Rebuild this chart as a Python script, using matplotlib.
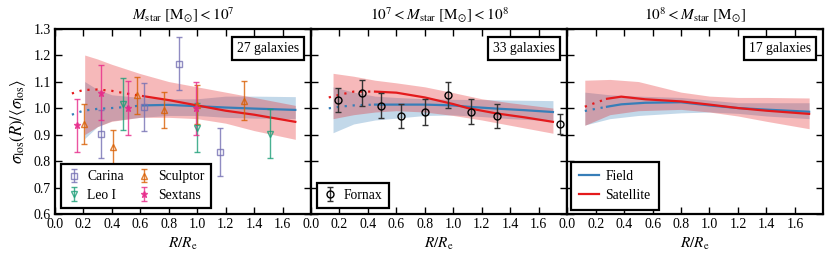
import numpy as np
import matplotlib
matplotlib.use('Agg')
import matplotlib.pyplot as plt

plt.rcParams['font.family'] = 'serif'
plt.rcParams['font.serif'] = ['Liberation Serif', 'DejaVu Serif']
plt.rcParams['mathtext.fontset'] = 'stix'
plt.rcParams['font.size'] = 9.5

blue = '#377eb8'
red = '#e41a1c'

titles = [r'$M_{\rm star}\ [\mathrm{M}_{\odot}] < 10^{7}$',
          r'$10^{7} < M_{\rm star}\ [\mathrm{M}_{\odot}] < 10^{8}$',
          r'$10^{8} < M_{\rm star}\ [\mathrm{M}_{\odot}]$']
n_gal = ['27 galaxies', '33 galaxies', '17 galaxies']

# median profiles (dotted for x < solid start)
line_x = [[0.12, 0.2, 0.3, 0.4, 0.5, 0.62, 0.8, 1.0, 1.2, 1.4, 1.69],
          [0.125, 0.2, 0.3, 0.45, 0.6, 0.8, 1.0, 1.1, 1.3, 1.5, 1.7],
          [0.124, 0.2, 0.28, 0.38, 0.55, 0.8, 1.0, 1.2, 1.4, 1.7]]
field_med = [[0.975, 0.99, 0.997, 1.0, 1.004, 1.01, 1.012, 1.007, 1.002, 0.998, 0.993],
             [0.999, 1.005, 1.01, 1.013, 1.013, 1.013, 1.01, 1.005, 0.998, 0.992, 0.985],
             [0.989, 0.997, 1.005, 1.014, 1.02, 1.022, 1.01, 1.0, 0.994, 0.986]]
sat_med = [[1.055, 1.068, 1.07, 1.065, 1.055, 1.045, 1.03, 1.01, 0.99, 0.975, 0.948],
           [1.04, 1.05, 1.062, 1.062, 1.058, 1.04, 1.015, 1.0, 0.98, 0.965, 0.948],
           [1.005, 1.02, 1.035, 1.043, 1.033, 1.025, 1.013, 1.0, 0.99, 0.978]]
solid_from = [0.62, 0.45, 0.28]

# scatter bands
band_x = [[0.21, 0.3, 0.4, 0.6, 0.8, 1.0, 1.2, 1.4, 1.69],
          [0.155, 0.3, 0.45, 0.6, 0.8, 1.0, 1.2, 1.4, 1.7],
          [0.124, 0.3, 0.5, 0.8, 1.0, 1.2, 1.4, 1.7]]
field_hi = [[1.10, 1.07, 1.05, 1.04, 1.035, 1.035, 1.045, 1.045, 1.043],
            [1.08, 1.06, 1.045, 1.04, 1.035, 1.033, 1.032, 1.03, 1.028],
            [1.06, 1.05, 1.045, 1.04, 1.03, 1.02, 1.02, 1.02]]
field_lo = [[0.885, 0.93, 0.952, 0.965, 0.972, 0.972, 0.965, 0.962, 0.96],
            [0.907, 0.94, 0.955, 0.962, 0.972, 0.974, 0.968, 0.96, 0.952],
            [0.936, 0.96, 0.972, 0.982, 0.985, 0.98, 0.97, 0.96]]
sat_hi = [[1.20, 1.185, 1.165, 1.13, 1.10, 1.08, 1.06, 1.04, 1.01],
          [1.131, 1.12, 1.105, 1.095, 1.08, 1.058, 1.035, 1.02, 1.0],
          [1.105, 1.108, 1.1, 1.06, 1.045, 1.04, 1.04, 1.038]]
sat_lo = [[0.90, 0.93, 0.95, 0.965, 0.965, 0.96, 0.943, 0.915, 0.882],
          [0.96, 0.975, 0.985, 0.99, 0.985, 0.972, 0.955, 0.935, 0.905],
          [0.935, 0.975, 0.99, 0.995, 0.985, 0.97, 0.95, 0.922]]

# observed dwarfs
carina_x = [0.325, 0.628, 0.875, 1.16]
carina_y = [0.902, 1.005, 1.168, 0.833]
carina_e = [0.09, 0.09, 0.1, 0.09]
sculptor_x = [0.205, 0.41, 0.58, 0.77, 1.0, 1.33]
sculptor_y = [0.94, 0.853, 1.048, 0.994, 1.013, 1.028]
sculptor_e = [0.075, 0.063, 0.07, 0.068, 0.075, 0.074]
leo_x = [0.478, 1.0, 1.51]
leo_y = [1.016, 0.926, 0.904]
leo_e = [0.097, 0.092, 0.092]
sextans_x = [0.153, 0.322, 0.513, 0.995]
sextans_y = [0.935, 1.058, 1.0, 1.0]
sextans_e = [0.1, 0.103, 0.103, 0.1]
fornax_x = [0.193, 0.358, 0.494, 0.635, 0.8, 0.965, 1.122, 1.306, 1.748]
fornax_y = [1.03, 1.057, 1.008, 0.97, 0.984, 1.05, 0.986, 0.97, 0.94]
fornax_e = [0.046, 0.048, 0.047, 0.045, 0.049, 0.05, 0.047, 0.045, 0.038]

fig, axes = plt.subplots(1, 3, figsize=(8.3, 2.64), dpi=100, sharey=True)
fig.subplots_adjust(left=0.066, right=0.992, bottom=0.189, top=0.892, wspace=0)

dots = (0, (1, 2.6))
for i, ax in enumerate(axes):
    ax.fill_between(band_x[i], field_lo[i], field_hi[i], color=blue, alpha=0.3, lw=0)
    ax.fill_between(band_x[i], sat_lo[i], sat_hi[i], color=red, alpha=0.3, lw=0)
    x = np.array(line_x[i])
    fm = np.array(field_med[i])
    sm = np.array(sat_med[i])
    d = x <= solid_from[i]
    s = x >= solid_from[i]
    ax.plot(x[d], fm[d], linestyle=dots, color=blue, lw=1.6)
    ax.plot(x[d], sm[d], linestyle=dots, color=red, lw=1.6)
    ax.plot(x[s], fm[s], '-', color=blue, lw=1.6, label='Field')
    ax.plot(x[s], sm[s], '-', color=red, lw=1.6, label='Satellite')

    ax.set_xlim(0, 1.8)
    ax.set_ylim(0.6, 1.3)
    ax.set_xticks(np.arange(0, 1.61, 0.2))
    ax.set_yticks(np.arange(0.6, 1.31, 0.1))
    ax.xaxis.set_major_formatter(matplotlib.ticker.FormatStrFormatter('%.1f'))
    ax.yaxis.set_major_formatter(matplotlib.ticker.FormatStrFormatter('%.1f'))
    ax.tick_params(direction='in', top=True, right=True, length=5, width=1, labelsize=10, pad=3)
    for sp in ax.spines.values():
        sp.set_linewidth(1.6)
    ax.set_title(titles[i], fontsize=11, pad=6)
    ax.set_xlabel(r'$R/R_{\rm e}$', fontsize=11, labelpad=3)
    ax.text(0.953, 0.929, n_gal[i], transform=ax.transAxes, ha='right', va='top',
            fontsize=9.8, bbox=dict(boxstyle='square,pad=0.38', fc='white', ec='black', lw=1.6))

axes[0].set_ylabel(r'$\sigma_{\rm los}(R)/\langle\sigma_{\rm los}\rangle$', fontsize=12, labelpad=4)

eb = dict(ms=5, capsize=2, elinewidth=1, capthick=1, lw=0, alpha=0.8)
ax = axes[0]
h1 = ax.errorbar(carina_x, carina_y, yerr=carina_e, fmt='s', color='#7570b3', mfc='none', label='Carina', **eb)
h2 = ax.errorbar(leo_x, leo_y, yerr=leo_e, fmt='v', color='#1b9e77', mfc='none', label='Leo I', **eb)
h3 = ax.errorbar(sculptor_x, sculptor_y, yerr=sculptor_e, fmt='^', color='#d95f02', mfc='none', label='Sculptor', **eb)
h4 = ax.errorbar(sextans_x, sextans_y, yerr=sextans_e, fmt='*', color='#e7298a', label='Sextans', **eb)
leg = ax.legend(handles=[h1, h2, h3, h4], loc='lower left', ncol=2, fontsize=9.8,
                handlelength=1.0, handletextpad=0.5, columnspacing=1.0, labelspacing=0.4,
                borderaxespad=0.45, borderpad=0.45, fancybox=False, framealpha=1, edgecolor='black')
leg.get_frame().set_linewidth(1.6)

ax = axes[1]
h5 = ax.errorbar(fornax_x, fornax_y, yerr=fornax_e, fmt='o', color='black', mfc='none', ms=5,
                 capsize=2, elinewidth=1, capthick=1, lw=0, ecolor='#333333', label='Fornax')
leg = ax.legend(handles=[h5], loc='lower left', fontsize=9.8, handlelength=1.0, handletextpad=0.5,
                borderaxespad=0.45, borderpad=0.45, fancybox=False, framealpha=1, edgecolor='black')
leg.get_frame().set_linewidth(1.6)

ax = axes[2]
leg = ax.legend(loc='lower left', fontsize=9.8, handlelength=1.45, handletextpad=0.45,
                labelspacing=0.45, borderaxespad=0.3, borderpad=0.6,
                fancybox=False, framealpha=1, edgecolor='black')
leg.get_frame().set_linewidth(1.6)

fig.savefig('out.png', dpi=100)
